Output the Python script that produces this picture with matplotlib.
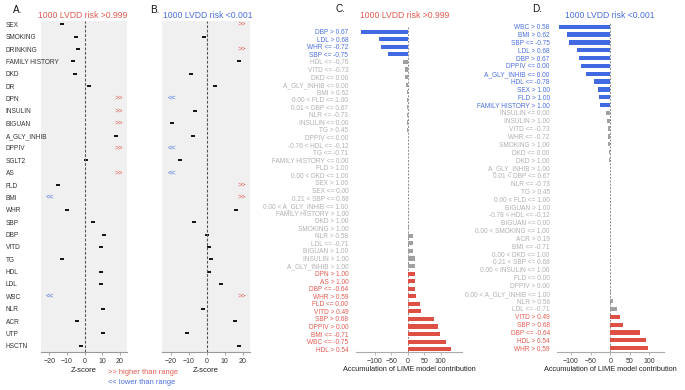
import numpy as np
import matplotlib
matplotlib.use('Agg')
import matplotlib.pyplot as plt

plt.rcParams['font.family'] = ['Liberation Sans', 'DejaVu Sans']

# ---- data ----
variables = ['SEX', 'SMOKING', 'DRINKING', 'FAMILY HISTORY', 'DKD', 'DR', 'DPN',
             'INSULIN', 'BIGUAN', 'A_GLY_INHIB', 'DPPIV', 'SGLT2', 'AS', 'FLD',
             'BMI', 'WHR', 'SBP', 'DBP', 'VITD', 'TG', 'HDL', 'LDL', 'WBC',
             'NLR', 'ACR', 'UTP', 'HSCTN']
inf = np.inf
# z-scores, +inf = higher than range, -inf = lower than range
z_high = [-12.7, -4.7, -3.6, -6.9, -5.6, 2.4, inf, inf, inf, 17.8, inf, 0.9, inf,
          -15.3, -inf, -10.3, 4.7, 10.8, 9.3, -13.1, 9.0, 9.3, -inf, 10.3, -4.1,
          10.5, -1.9]
z_low = [inf, -1.3, inf, 17.9, -8.8, 4.5, -inf, -6.7, -19.4, -7.7, -inf, -14.6,
         -inf, inf, inf, 16.1, -6.9, 0.0, 1.3, 2.6, 1.5, 8.0, inf, -1.9, 15.7,
         -11.2, 17.9]

lime_c_labels = ['DBP > 0.67', 'LDL > 0.68', 'WHR <= -0.72', 'SBP <= -0.75',
                 'HDL <= -0.76', 'VITD <= -0.73', 'DKD <= 0.00', 'A_GLY_INHIB <= 0.00',
                 'BMI > 0.62', '0.00 < FLD <= 1.00', '0.01 < DBP <= 0.67', 'NLR <= -0.73',
                 'INSULIN <= 0.00', 'TG > 0.45', 'DPPIV <= 0.00', '-0.76 < HDL <= -0.12',
                 'TG <= -0.71', 'FAMILY HISTORY <= 0.00', 'FLD > 1.00', '0.00 < DKD <= 1.00',
                 'SEX > 1.00', 'SEX <= 0.00', '0.21 < SBP <= 0.68',
                 '0.00 < A_GLY_INHIB <= 1.00', 'FAMILY HISTORY > 1.00', 'DKD > 1.00',
                 'SMOKING > 1.00', 'NLR > 0.58', 'LDL <= -0.71', 'BIGUAN > 1.00',
                 'INSULIN > 1.00', 'A_GLY_INHIB > 1.00', 'DPN > 1.00', 'AS > 1.00',
                 'DBP <= -0.64', 'WHR > 0.59', 'FLD <= 0.00', 'VITD > 0.49', 'SBP > 0.68',
                 'DPPIV > 0.00', 'BMI <= -0.71', 'WBC <= -0.75', 'HDL > 0.54']
lime_c_vals = [-143, -89, -82, -59, -13, -8, -7, -5, -3, -2, -1.5, -1.2, -1, -0.8,
               -0.6, -0.5, -0.4, -0.3, -0.2, -0.1, 0.1, 0.2, 0.3, 0.5, 0.8, 1.5, 3,
               15, 15, 17, 21, 21, 22, 22, 22, 24, 36, 41, 79, 92, 99, 117, 133]
lime_c_grp = ['neg'] * 4 + ['ns'] * 28 + ['pos'] * 11

lime_d_labels = ['WBC > 0.58', 'BMI > 0.62', 'SBP <= -0.75', 'LDL > 0.68', 'DBP > 0.67',
                 'DPPIV <= 0.00', 'A_GLY_INHIB <= 0.00', 'HDL <= -0.78', 'SEX > 1.00',
                 'FLD > 1.00', 'FAMILY HISTORY > 1.00', 'INSULIN <= 0.00', 'INSULIN > 1.00',
                 'VITD <= -0.73', 'WHR <= -0.72', 'SMOKING > 1.00', 'DKD <= 0.00',
                 'DKD > 1.00', 'A_GLY_INHIB > 1.00', '0.01 < DBP <= 0.67', 'NLR <= -0.73',
                 'TG > 0.45', '0.00 < FLD <= 1.00', 'BIGUAN > 1.00', '-0.78 < HDL <= -0.12',
                 'BIGUAN <= 0.00', '0.00 < SMOKING <= 1.00', 'ACR > 0.19', 'BMI <= -0.71',
                 '0.00 < DKD <= 1.00', '0.21 < SBP <= 0.68', '0.00 < INSULIN <= 1.00',
                 'FLD <= 0.00', 'DPPIV > 0.00', '0.00 < A_GLY_INHIB <= 1.00', 'NLR > 0.58',
                 'LDL <= -0.71', 'VITD > 0.49', 'SBP > 0.68', 'DBP <= -0.64', 'HDL > 0.54',
                 'WHR > 0.59']
lime_d_vals = [-131, -110, -104, -86, -80, -75, -61, -41, -32, -28, -26, -12, -9, -7,
               -6, -5, -3, -2.5, -1.5, -1, -0.8, -0.6, -0.5, -0.4, -0.3, -0.2, -0.1,
               0.5, 0.6, 0.4, 0.3, 0.3, 0.4, 0.5, 0.8, 6, 16, 25, 33, 77, 90, 95]
lime_d_grp = ['neg'] * 11 + ['ns'] * 26 + ['pos'] * 5

RED = '#e35a50'
BLUE = '#4a6fe0'
BAR_BLUE = '#4169e1'
BAR_RED = '#de4f45'
GRAY_BAR = '#a0a0a0'
GRAY_TXT = '#b0b0b0'

W, H = 685, 390
fig = plt.figure(figsize=(W / 100, H / 100), dpi=100)


def rect(l, r, t, b):
    return [l / W, 1 - b / H, (r - l) / W, (b - t) / H]


def zscore_panel(ax, z, show_labels):
    ax.set_facecolor('#f0f0f0')
    y = np.arange(len(variables))
    z = np.array(z)
    fin = np.isfinite(z)
    ax.plot(z[fin], y[fin], '_', color='black', ms=3.5, mew=1.3)
    for yi, v in zip(y, z):
        if v == inf:
            ax.text(19.3, yi, '>>', color=RED, fontsize=5.3, ha='center', va='center')
        elif v == -inf:
            ax.text(-19.5, yi, '<<', color=BLUE, fontsize=5.3, ha='center', va='center')
    ax.axvline(0, color='#555555', ls=(0, (2.5, 1.5)), lw=0.8)
    ax.set_xlim(-24.8, 24)
    ax.set_ylim(26.5, -0.27)
    for s in ['top', 'right', 'left']:
        ax.spines[s].set_visible(False)
    ax.spines['bottom'].set_color('#999999')
    ax.spines['bottom'].set_linewidth(0.8)
    ax.set_xticks([-20, -10, 0, 10, 20])
    ax.tick_params(axis='x', labelsize=5, colors='#999999', labelcolor='#333333',
                   length=2.5, width=0.6, pad=2)
    ax.set_yticks(y)
    if show_labels:
        ax.set_yticklabels(variables, fontsize=4.7, color='#333333')
        for lab in ax.get_yticklabels():
            lab.set_horizontalalignment('left')
        ax.tick_params(axis='y', length=0, pad=25.5)
    else:
        ax.set_yticklabels([])
        ax.tick_params(axis='y', length=0)
    ax.set_xlabel('Z-score', fontsize=5.5, color='#222222', labelpad=1)


def lime_panel(ax, labels, vals, grp, xlim, ylim):
    y = np.arange(len(labels))
    bar_col = {'neg': BAR_BLUE, 'pos': BAR_RED, 'ns': GRAY_BAR}
    txt_col = {'neg': BLUE, 'pos': RED, 'ns': GRAY_TXT}
    ax.barh(y, vals, height=0.55, color=[bar_col[g] for g in grp])
    ax.axvline(0, color='#888888', ls=(0, (2, 1.5)), lw=0.7, zorder=0)
    ax.set_xlim(*xlim)
    ax.set_ylim(*ylim)
    for s in ['top', 'right', 'left']:
        ax.spines[s].set_visible(False)
    ax.spines['bottom'].set_color('#aaaaaa')
    ax.spines['bottom'].set_linewidth(0.8)
    ax.set_xticks([-100, -50, 0, 50, 100])
    ax.tick_params(axis='x', labelsize=5, colors='#aaaaaa', labelcolor='#333333',
                   length=2.5, width=0.6, pad=1.5)
    ax.set_yticks(y)
    ax.set_yticklabels(labels, fontsize=4.7)
    for lab, g in zip(ax.get_yticklabels(), grp):
        lab.set_color(txt_col[g])
    ax.tick_params(axis='y', length=0, pad=5.5)
    ax.set_xlabel('Accumulation of LIME model contribution', fontsize=5.3,
                  color='#222222', labelpad=1)


axA = fig.add_axes(rect(41, 127, 21, 352))
zscore_panel(axA, z_high, True)
axB = fig.add_axes(rect(162, 250, 21, 352))
zscore_panel(axB, z_low, False)

axC = fig.add_axes(rect(356, 462, 27.2, 352.2))
lime_panel(axC, lime_c_labels, lime_c_vals, lime_c_grp, (-157.6, 165.5), (42.4, -0.6))
axD = fig.add_axes(rect(557.3, 664.3, 22.8, 352.1))
lime_panel(axD, lime_d_labels, lime_d_vals, lime_d_grp, (-135, 137.8), (41.5, -0.5))

# titles and panel letters
def ftext(x, y, s, **kw):
    fig.text(x / W, 1 - y / H, s, **kw)

ftext(83, 15, '1000 LVDD risk >0.999', color=RED, fontsize=6.2, ha='center', va='center')
ftext(208, 15, '1000 LVDD risk <0.001', color=BLUE, fontsize=6.2, ha='center', va='center')
ftext(405, 15, '1000 LVDD risk >0.999', color=RED, fontsize=6.2, ha='center', va='center')
ftext(610, 15, '1000 LVDD risk <0.001', color=BLUE, fontsize=6.2, ha='center', va='center')
for x, y, s in [(18, 10, 'A.'), (155, 10, 'B.'), (340, 9, 'C.'), (537, 9, 'D.')]:
    ftext(x, y, s, color='#111111', fontsize=7.2, ha='center', va='center')

ftext(107.7, 373, '>> higher than range', color=RED, fontsize=5.4, ha='left', va='center')
ftext(107.7, 382.5, '<< lower than range', color=BLUE, fontsize=5.4, ha='left', va='center')

fig.savefig('out.png', dpi=100)
